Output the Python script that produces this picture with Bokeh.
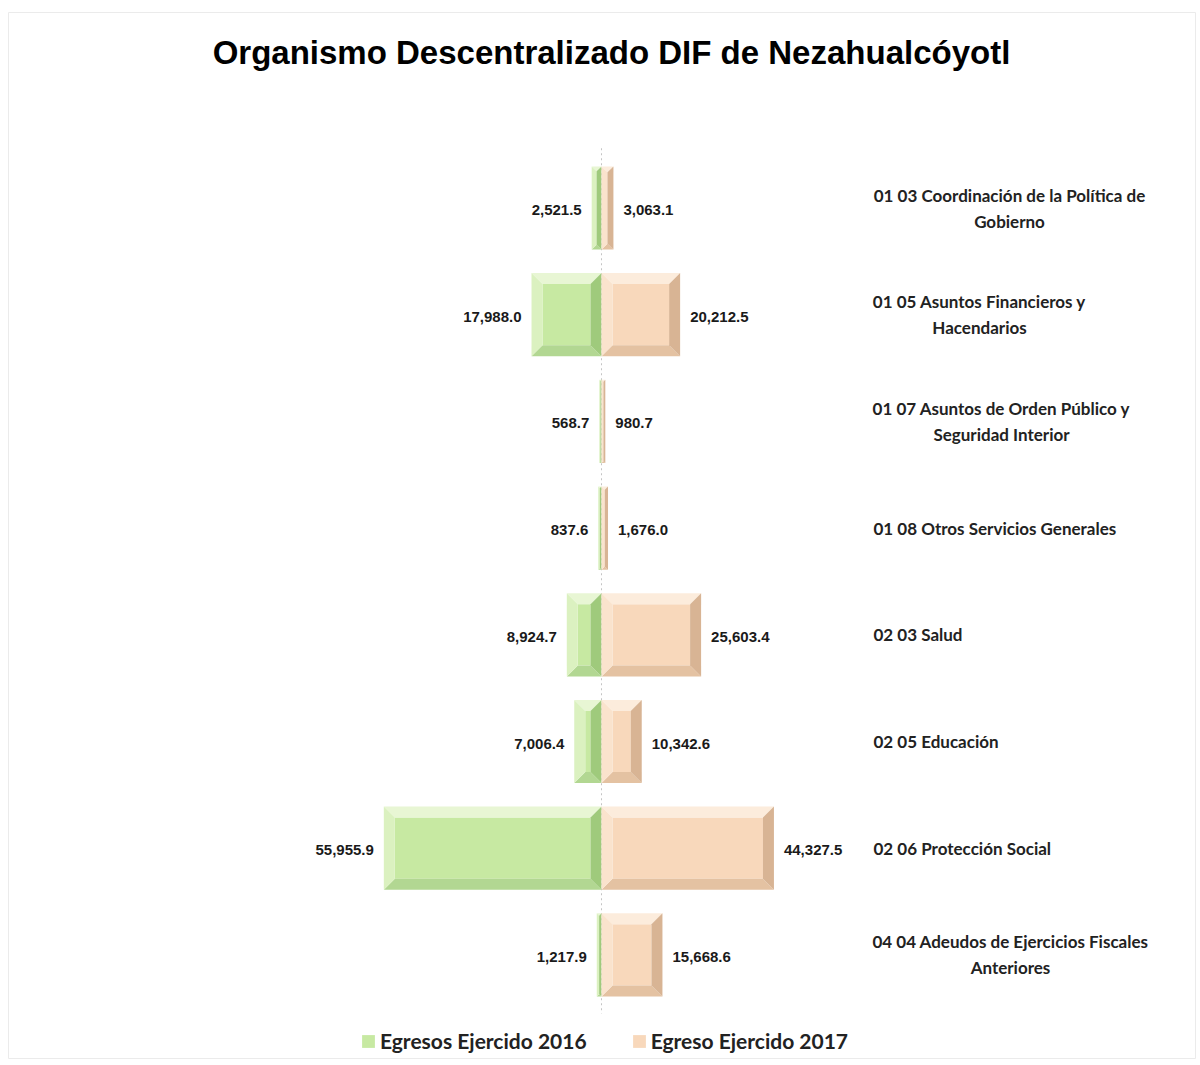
from bokeh.plotting import figure
from bokeh.models import Range1d, Legend, LegendItem
from bokeh.core.properties import value
from bokeh.embed import file_html
from bokeh.resources import INLINE

# ---------------- data ----------------
categories = [
    "01 03 Coordinación de la Política de\nGobierno",
    "01 05 Asuntos Financieros y\nHacendarios",
    "01 07 Asuntos de Orden Público y\nSeguridad Interior",
    "01 08 Otros Servicios Generales",
    "02 03 Salud",
    "02 05 Educación",
    "02 06 Protección Social",
    "04 04 Adeudos de Ejercicios Fiscales\nAnteriores",
]
egresos_2016 = [2521.5, 17988.0, 568.7, 837.6, 8924.7, 7006.4, 55955.9, 1217.9]
egreso_2017 = [3063.1, 20212.5, 980.7, 1676.0, 25603.4, 10342.6, 44327.5, 15668.6]
series_names = ["Egresos Ejercido 2016", "Egreso Ejercido 2017"]
title_text = "Organismo Descentralizado DIF de Nezahualcóyotl"

# ---------------- layout / style ----------------
W, H = 1196, 1062
BORDER_L, BORDER_T, BORDER_R, BORDER_B = 8, 12, 0, 4
FW = W - BORDER_L - BORDER_R          # frame width
FH = H - BORDER_T - BORDER_B          # frame height
PX_PER_UNIT_X = 3.89 / 1000.0         # pixels per data unit (x)
PX_PER_ROW = 106.7                    # pixels per category row
CENTER_PX = 601 - BORDER_L            # x=0 inside frame
ROW0_PX = 207.5 - BORDER_T            # row 0 centre inside frame
BAR_H = 0.78
BEVEL_PX = 11

x_start = -CENTER_PX / PX_PER_UNIT_X
x_end = (FW - CENTER_PX) / PX_PER_UNIT_X
y_top = (0 - ROW0_PX) / PX_PER_ROW
y_bottom = (FH - ROW0_PX) / PX_PER_ROW

GREEN = dict(center="#c7e9a2", top="#e8f6d4", left="#dbf1c0", right="#9fca7c", bottom="#b2d792")
PEACH = dict(center="#f8d8bb", top="#fcecdc", left="#fae3cd", right="#d8b494", bottom="#e4c2a2")

NUM_FONT = "Liberation Sans"
CAT_FONT = "Lato"

p = figure(width=W, height=H, output_backend="svg", toolbar_location=None,
           x_range=Range1d(x_start, x_end), y_range=Range1d(y_bottom, y_top),
           x_axis_location=None, y_axis_location=None, title=None,
           min_border_left=BORDER_L, min_border_top=BORDER_T,
           min_border_right=BORDER_R, min_border_bottom=BORDER_B)
p.grid.visible = False
p.outline_line_color = "#ebebeb"
p.background_fill_color = "white"
p.border_fill_color = "white"

# centre dotted axis line
p.segment(x0=[0], y0=[-0.56], x1=[0], y1=[len(categories) - 0.45],
          line_color="#c4c4c4", line_dash="2 3", line_width=1)


def bevel_parts(xa, xb, yc, colors, xs, ys, fc):
    """Bevel trapezoids for a bar spanning xa..xb (data), centred on row yc."""
    w_px = (xb - xa) * PX_PER_UNIT_X
    b_px = min(BEVEL_PX, w_px / 2.0)
    bx = b_px / PX_PER_UNIT_X
    by = b_px / PX_PER_ROW
    yt, yb = yc - BAR_H / 2, yc + BAR_H / 2
    xs.append([xa, xb, xb - bx, xa + bx]); ys.append([yt, yt, yt + by, yt + by]); fc.append(colors["top"])
    xs.append([xa, xb, xb - bx, xa + bx]); ys.append([yb, yb, yb - by, yb - by]); fc.append(colors["bottom"])
    xs.append([xa, xa + bx, xa + bx, xa]); ys.append([yt, yt + by, yb - by, yb]); fc.append(colors["left"])
    xs.append([xb, xb - bx, xb - bx, xb]); ys.append([yt, yt + by, yb - by, yb]); fc.append(colors["right"])
    return xa + bx, xb - bx, yt + by, yb - by


renderers = []
for vals, sign, colors in ((egresos_2016, -1, GREEN), (egreso_2017, 1, PEACH)):
    xs, ys, fc = [], [], []
    cl, cr, ct, cb = [], [], [], []
    for i, v in enumerate(vals):
        xa, xb = (-v, 0.0) if sign < 0 else (0.0, v)
        l, r, t, b = bevel_parts(xa, xb, i, colors, xs, ys, fc)
        cl.append(l); cr.append(r); ct.append(t); cb.append(b)
    rq = p.quad(left=cl, right=cr, top=ct, bottom=cb, fill_color=colors["center"], line_color=None)
    p.patches(xs=xs, ys=ys, fill_color=fc, line_color=None)
    renderers.append(rq)

# value labels
idx = list(range(len(categories)))
p.text(x=[-v for v in egresos_2016], y=idx, text=[f"{v:,.1f}" for v in egresos_2016],
       x_offset=-10, y_offset=2, text_align="right", text_baseline="middle",
       text_font=value(NUM_FONT), text_font_style="bold", text_font_size="15px", text_color="#1a1a1a")
p.text(x=egreso_2017, y=idx, text=[f"{v:,.1f}" for v in egreso_2017],
       x_offset=10, y_offset=2, text_align="left", text_baseline="middle",
       text_font=value(NUM_FONT), text_font_style="bold", text_font_size="15px", text_color="#1a1a1a")

# category labels (on the right)
LEFT_OFF = 272
CENTER_OFF = [408, 378, 400, None, None, None, None, 409]
for i, cat in enumerate(categories):
    lines = cat.split("\n")
    if len(lines) == 1:
        p.text(x=[0], y=[i], text=[lines[0]], x_offset=LEFT_OFF, y_offset=0,
               text_align="left", text_baseline="middle",
               text_font=value(CAT_FONT), text_font_style="bold", text_font_size="17px", text_color="#222222")
    else:
        for k, ln in enumerate(lines):
            p.text(x=[0], y=[i], text=[ln], x_offset=CENTER_OFF[i], y_offset=-13 + 26 * k,
                   text_align="center", text_baseline="middle",
                   text_font=value(CAT_FONT), text_font_style="bold", text_font_size="17px", text_color="#222222")

# title (positioned relative to the top of the frame)
p.text(x=[0], y=[y_top], text=[title_text], x_offset=10, y_offset=40,
       text_align="center", text_baseline="middle",
       text_font=value(NUM_FONT), text_font_style="bold", text_font_size="33px", text_color="#000000")

# legend
legend = Legend(items=[LegendItem(label=series_names[0], renderers=[renderers[0]]),
                       LegendItem(label=series_names[1], renderers=[renderers[1]])],
                orientation="horizontal", location=(352, 5),
                glyph_width=16, glyph_height=16, label_standoff=4, spacing=44,
                padding=0, margin=0, border_line_color=None, background_fill_alpha=0,
                label_text_font="Lato", label_text_font_style="bold",
                label_text_font_size="21px", label_text_color="#222222")
p.add_layout(legend)

open("out.html", "w").write(file_html(p, INLINE))
